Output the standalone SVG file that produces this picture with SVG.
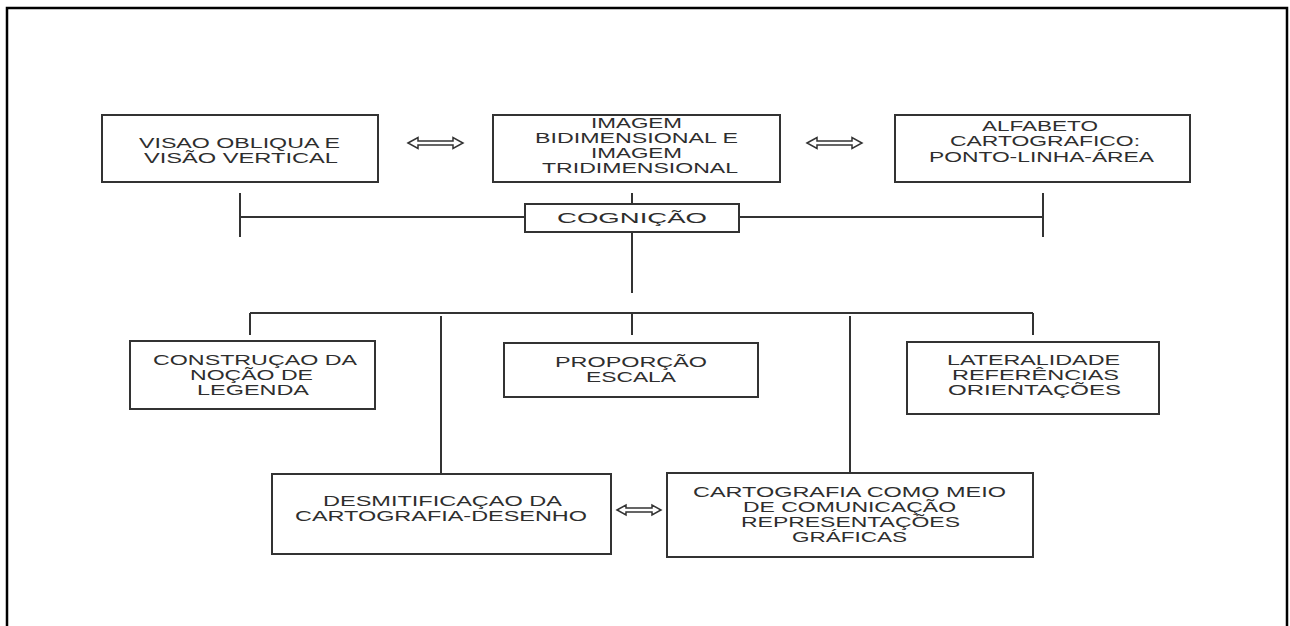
<svg xmlns="http://www.w3.org/2000/svg" width="1290" height="626" viewBox="0 0 1290 626">
<style>
.bg{fill:#ffffff}
.frame{fill:none;stroke:#000;stroke-width:2.5}
.box{fill:#ffffff;stroke:#333;stroke-width:2}
.ln{fill:none;stroke:#333;stroke-width:2}
.arr{fill:#ffffff;stroke:#333;stroke-width:1.5;stroke-linejoin:miter}
text{font-family:"Liberation Sans",Arial,sans-serif;font-size:15px;fill:#2e2e2e}
</style>
<rect class="bg" x="0" y="0" width="1290" height="626"/>
<path class="frame" d="M7,640 V8 H1287 V640"/>

<g id="connectors">
  <line class="ln" x1="240" y1="193" x2="240" y2="237"/>
  <line class="ln" x1="240" y1="217" x2="525" y2="217"/>
  <line class="ln" x1="632" y1="193" x2="632" y2="204"/>
  <line class="ln" x1="739" y1="217" x2="1043" y2="217"/>
  <line class="ln" x1="1043" y1="193" x2="1043" y2="237"/>
  <line class="ln" x1="632" y1="232" x2="632" y2="293"/>
  <line class="ln" x1="250" y1="313" x2="1033" y2="313"/>
  <line class="ln" x1="250" y1="313" x2="250" y2="335"/>
  <line class="ln" x1="632" y1="313" x2="632" y2="335"/>
  <line class="ln" x1="1033" y1="313" x2="1033" y2="335"/>
  <line class="ln" x1="441" y1="316" x2="441" y2="474"/>
  <line class="ln" x1="850" y1="316" x2="850" y2="473"/>
  <path class="arr" d="M408,143 L418,137.5 L418,141 L453,141 L453,137.5 L463,143 L453,148.5 L453,145 L418,145 L418,148.5 Z"/>
  <path class="arr" d="M807,143 L817,137.5 L817,141 L852,141 L852,137.5 L862,143 L852,148.5 L852,145 L817,145 L817,148.5 Z"/>
  <path class="arr" d="M617,510 L626,505 L626,508 L652,508 L652,505 L661,510 L652,515 L652,512 L626,512 L626,515 Z"/>
</g>

<g id="visao">
  <rect class="box" x="102" y="115" width="276" height="67"/>
  <text x="139" y="148" textLength="201" lengthAdjust="spacingAndGlyphs">VISAO OBLIQUA E</text>
  <text x="144" y="163" textLength="194" lengthAdjust="spacingAndGlyphs">VISÃO VERTICAL</text>
</g>

<g id="imagem">
  <rect class="box" x="493" y="115" width="287" height="67"/>
  <text x="591" y="128" textLength="91" lengthAdjust="spacingAndGlyphs">IMAGEM</text>
  <text x="535" y="143" textLength="203" lengthAdjust="spacingAndGlyphs">BIDIMENSIONAL E</text>
  <text x="591" y="158" textLength="91" lengthAdjust="spacingAndGlyphs">IMAGEM</text>
  <text x="542" y="173" textLength="196" lengthAdjust="spacingAndGlyphs">TRIDIMENSIONAL</text>
</g>

<g id="alfabeto">
  <rect class="box" x="895" y="115" width="295" height="67"/>
  <text x="982" y="131" textLength="116" lengthAdjust="spacingAndGlyphs">ALFABETO</text>
  <text x="950" y="146" textLength="190" lengthAdjust="spacingAndGlyphs">CARTOGRAFICO:</text>
  <text x="929" y="162" textLength="225" lengthAdjust="spacingAndGlyphs">PONTO-LINHA-ÁREA</text>
</g>

<g id="cognicao">
  <rect class="box" x="525" y="204" width="214" height="28"/>
  <text x="557" y="223" textLength="150" lengthAdjust="spacingAndGlyphs">COGNIÇÃO</text>
</g>

<g id="legenda">
  <rect class="box" x="130" y="341" width="245" height="68"/>
  <text x="153" y="365" textLength="204" lengthAdjust="spacingAndGlyphs">CONSTRUÇAO DA</text>
  <text x="190" y="380" textLength="123" lengthAdjust="spacingAndGlyphs">NOÇÃO DE</text>
  <text x="197" y="395" textLength="112" lengthAdjust="spacingAndGlyphs">LEGENDA</text>
</g>

<g id="proporcao">
  <rect class="box" x="504" y="343" width="254" height="54"/>
  <text x="555" y="367" textLength="152" lengthAdjust="spacingAndGlyphs">PROPORÇÃO</text>
  <text x="586" y="382" textLength="90" lengthAdjust="spacingAndGlyphs">ESCALA</text>
</g>

<g id="lateralidade">
  <rect class="box" x="907" y="342" width="252" height="72"/>
  <text x="947" y="365" textLength="173" lengthAdjust="spacingAndGlyphs">LATERALIDADE</text>
  <text x="952" y="380" textLength="167" lengthAdjust="spacingAndGlyphs">REFERÊNCIAS</text>
  <text x="948" y="395" textLength="173" lengthAdjust="spacingAndGlyphs">ORIENTAÇÕES</text>
</g>

<g id="desmitificacao">
  <rect class="box" x="272" y="474" width="339" height="80"/>
  <text x="323" y="506" textLength="239" lengthAdjust="spacingAndGlyphs">DESMITIFICAÇAO DA</text>
  <text x="295" y="521" textLength="292" lengthAdjust="spacingAndGlyphs">CARTOGRAFIA-DESENHO</text>
</g>

<g id="comunicacao">
  <rect class="box" x="667" y="473" width="366" height="84"/>
  <text x="693" y="497" textLength="313" lengthAdjust="spacingAndGlyphs">CARTOGRAFIA COMO MEIO</text>
  <text x="743" y="512" textLength="213" lengthAdjust="spacingAndGlyphs">DE COMUNICAÇÃO</text>
  <text x="741" y="527" textLength="219" lengthAdjust="spacingAndGlyphs">REPRESENTAÇÕES</text>
  <text x="792" y="542" textLength="115" lengthAdjust="spacingAndGlyphs">GRÁFICAS</text>
</g>
</svg>
